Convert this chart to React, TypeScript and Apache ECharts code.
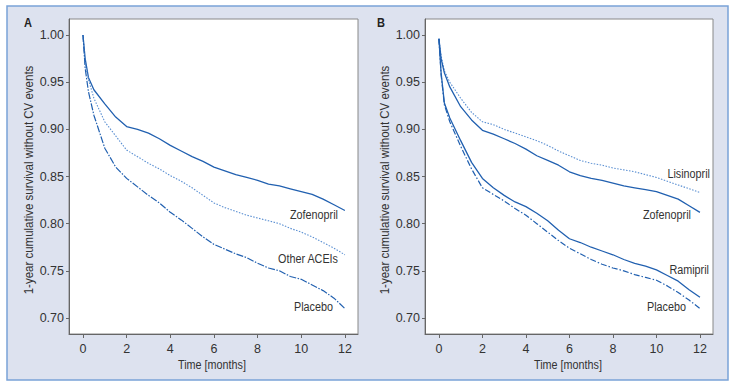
import React, { useEffect, useRef } from "react";
import * as echarts from "echarts";

const months = [0, 0.1, 0.25, 0.5, 1, 1.5, 2, 2.5, 3, 3.5, 4, 4.5, 5, 5.5, 6, 6.5, 7, 7.5, 8, 8.5, 9, 9.5, 10, 10.5, 11, 11.5, 12];

const zofenoprilA = [1.000, 0.975, 0.955, 0.942, 0.927, 0.913, 0.903, 0.900, 0.896, 0.890, 0.883, 0.877, 0.871, 0.866, 0.860, 0.856, 0.852, 0.849, 0.846, 0.842, 0.840, 0.837, 0.834, 0.831, 0.826, 0.820, 0.814];
const otherAceisA = [1.000, 0.970, 0.953, 0.933, 0.908, 0.893, 0.878, 0.871, 0.864, 0.858, 0.851, 0.845, 0.838, 0.830, 0.822, 0.817, 0.813, 0.809, 0.806, 0.803, 0.800, 0.795, 0.791, 0.786, 0.780, 0.774, 0.767];
const placeboA = [1.000, 0.965, 0.940, 0.915, 0.880, 0.860, 0.848, 0.839, 0.830, 0.822, 0.812, 0.804, 0.795, 0.786, 0.778, 0.773, 0.768, 0.764, 0.758, 0.753, 0.750, 0.744, 0.741, 0.735, 0.729, 0.721, 0.710];

const zofenoprilB = [0.996, 0.975, 0.960, 0.945, 0.924, 0.910, 0.899, 0.895, 0.890, 0.885, 0.879, 0.872, 0.867, 0.862, 0.855, 0.851, 0.848, 0.846, 0.843, 0.840, 0.838, 0.836, 0.834, 0.830, 0.826, 0.819, 0.812];
const lisinoprilB = [0.996, 0.978, 0.962, 0.950, 0.933, 0.918, 0.908, 0.905, 0.900, 0.896, 0.892, 0.888, 0.883, 0.877, 0.872, 0.867, 0.864, 0.862, 0.859, 0.857, 0.855, 0.852, 0.849, 0.845, 0.841, 0.837, 0.833];
const ramiprilB = [0.996, 0.960, 0.928, 0.912, 0.888, 0.865, 0.848, 0.838, 0.830, 0.823, 0.818, 0.811, 0.803, 0.793, 0.784, 0.780, 0.775, 0.771, 0.767, 0.762, 0.758, 0.755, 0.751, 0.745, 0.739, 0.730, 0.722];
const placeboB = [0.996, 0.958, 0.926, 0.908, 0.882, 0.858, 0.838, 0.831, 0.824, 0.816, 0.809, 0.800, 0.791, 0.782, 0.774, 0.768, 0.762, 0.757, 0.753, 0.750, 0.746, 0.743, 0.740, 0.734, 0.727, 0.719, 0.710];

const xTicks = [0, 2, 4, 6, 8, 10, 12];
const yTicks = [0.7, 0.75, 0.8, 0.85, 0.9, 0.95, 1.0];

const yTitle = "1-year cumulative survival without CV events";
const xTitle = "Time [months]";

const FONT = "'Liberation Sans', Arial, sans-serif";
const TXT = "#333";
const DARK = "#2160b0";
const LIGHT = "#5a8fd2";
const NARROW = 0.8;

const pairs = (vals: number[]) => vals.map((v, i) => [months[i], v]);

export default function App() {
  const ref = useRef<HTMLDivElement>(null);
  useEffect(() => {
    if (!ref.current) return;
    const chart = echarts.init(ref.current, null, { renderer: "svg" });

    const xAxis = (gridIndex: number) => ({
      type: "value",
      gridIndex,
      min: -0.64,
      max: 12.6,
      axisLine: { show: true, onZero: false, lineStyle: { color: "#666", width: 1 } },
      axisTick: { show: true, length: 4, customValues: xTicks, lineStyle: { color: "#666" } },
      axisLabel: { customValues: xTicks, fontFamily: FONT, fontSize: 12.5, color: TXT, margin: 8 },
      splitLine: { show: false },
    });
    const yAxis = (gridIndex: number) => ({
      type: "value",
      gridIndex,
      min: 0.683,
      max: 1.017,
      axisLine: { show: true, onZero: false, lineStyle: { color: "#666", width: 1 } },
      axisTick: { show: true, length: 3, customValues: yTicks, lineStyle: { color: "#666" } },
      axisLabel: {
        customValues: yTicks,
        fontFamily: FONT,
        fontSize: 12.5,
        color: TXT,
        margin: 5,
        formatter: (v: number) => v.toFixed(2),
      },
      splitLine: { show: false },
    });

    const line = (name: string, data: number[], idx: number, color: string, type: any, width = 1.3) => ({
      type: "line",
      name,
      xAxisIndex: idx,
      yAxisIndex: idx,
      data: pairs(data),
      showSymbol: false,
      symbol: "none",
      lineStyle: { color, width, type },
    });

    const label = (text: string, x: number, y: number, align = "right", rotation = 0, size = 13.5, sx = NARROW) => ({
      type: "text",
      x,
      y,
      rotation,
      scaleX: sx,
      style: { text, fontFamily: FONT, fontSize: size, fill: TXT, align, verticalAlign: "middle" },
    });

    chart.setOption({
      animation: false,
      backgroundColor: "#ffffff",
      grid: [
        { left: 69, top: 19, width: 289, height: 315, show: true, borderColor: "#888", borderWidth: 1, backgroundColor: "#fff" },
        { left: 425, top: 19, width: 288, height: 315, show: true, borderColor: "#888", borderWidth: 1, backgroundColor: "#fff" },
      ],
      xAxis: [xAxis(0), xAxis(1)],
      yAxis: [yAxis(0), yAxis(1)],
      series: [
        line("Zofenopril", zofenoprilA, 0, DARK, "solid"),
        line("Other ACEIs", otherAceisA, 0, LIGHT, [1.5, 1.5], 1.1),
        line("Placebo", placeboA, 0, DARK, [7, 1.5, 1.5, 1.5], 1.2),
        line("Lisinopril", lisinoprilB, 1, LIGHT, [1.5, 1.5], 1.1),
        line("Zofenopril", zofenoprilB, 1, DARK, "solid"),
        line("Ramipril", ramiprilB, 1, DARK, "solid"),
        line("Placebo", placeboB, 1, DARK, [6, 2, 1.5, 2], 1.2),
      ],
      graphic: [
        {
          type: "rect",
          z: -10,
          silent: true,
          shape: { x: 7, y: 6, width: 721, height: 374 },
          style: { fill: "#dde2ef", stroke: "#7aa3d8", lineWidth: 1.5 },
        },
        { type: "text", x: 28, y: 23, scaleX: 0.85, style: { text: "A", fontFamily: FONT, fontSize: 13, fontWeight: "bold", fill: "#222", align: "center", verticalAlign: "middle" } },
        { type: "text", x: 381, y: 23, scaleX: 0.85, style: { text: "B", fontFamily: FONT, fontSize: 13, fontWeight: "bold", fill: "#222", align: "center", verticalAlign: "middle" } },
        label(yTitle, 29, 180, "center", Math.PI / 2, 12.5, 0.92),
        label(yTitle, 385, 180, "center", Math.PI / 2, 12.5, 0.92),
        label(xTitle, 212, 365, "center"),
        label(xTitle, 568, 365, "center"),
        label("Zofenopril", 338, 215),
        label("Other ACEIs", 338, 259),
        label("Placebo", 333, 307),
        label("Lisinopril", 710, 174),
        label("Zofenopril", 691, 215),
        label("Ramipril", 709, 270),
        label("Placebo", 686, 307),
      ],
    });
    return () => chart.dispose();
  }, []);
  return (
    <div
      ref={ref}
      style={{ position: "fixed", left: 0, top: 0, width: 736, height: 386 }}
    />
  );
}
